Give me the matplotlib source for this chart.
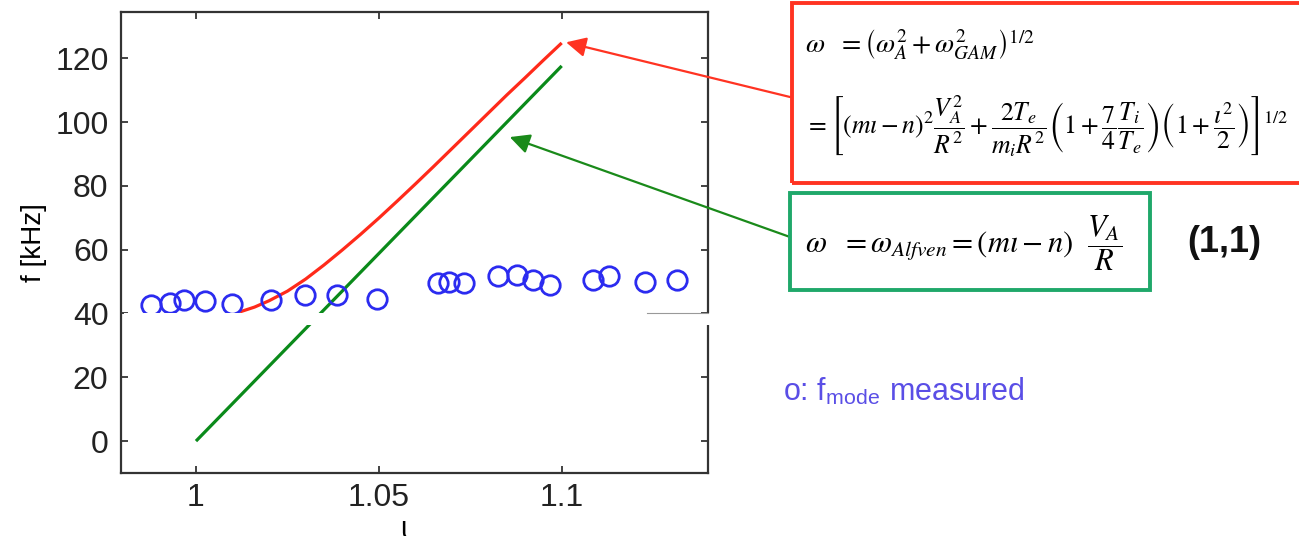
import matplotlib
matplotlib.use("Agg")
import matplotlib.pyplot as plt
from matplotlib.patches import Rectangle
from matplotlib.lines import Line2D

plt.rcParams['font.family'] = ['Liberation Sans', 'DejaVu Sans']
plt.rcParams['mathtext.fontset'] = 'stix'

# measured mode frequencies (rotational transform iota, kHz)
iota_meas = [0.9876, 0.9929, 0.9966, 1.0025, 1.0098, 1.0204, 1.0298, 1.0386,
             1.0496, 1.0662, 1.0693, 1.0734, 1.0827, 1.0877, 1.0922, 1.0969,
             1.1085, 1.1128, 1.1229, 1.1316]
f_meas = [42.6, 43.4, 44.2, 44.0, 42.9, 44.2, 45.9, 45.9,
          44.5, 49.6, 49.9, 49.6, 51.8, 52.0, 50.5, 48.8,
          50.5, 51.8, 50.0, 50.5]

# Alfven + GAM branch
iota_gam = [1.012, 1.016, 1.020, 1.025, 1.030, 1.035, 1.040, 1.045, 1.050,
            1.055, 1.060, 1.065, 1.070, 1.075, 1.080, 1.085, 1.090, 1.095, 1.100]
f_gam = [40.5, 42.0, 44.0, 47.0, 50.8, 55.2, 59.9, 64.8, 69.9,
         75.2, 80.6, 86.1, 91.7, 97.3, 102.9, 108.5, 113.9, 119.4, 124.8]

# pure Alfven branch
iota_alf = [1.0, 1.1]
f_alf = [0.0, 117.6]

xticks = [1.0, 1.05, 1.1]
xticklabels = ['1', '1.05', '1.1']
yticks = [0, 20, 40, 60, 80, 100, 120]

W, H = 1299, 540
fig = plt.figure(figsize=(W / 100, H / 100), dpi=100)

def fx(px):
    return px / W

def fy(py):
    return 1 - py / H

ax = fig.add_axes([fx(121), fy(473), fx(708) - fx(121), fy(12) - fy(473)])
ax.plot(iota_gam, f_gam, color='#ff2a1a', lw=2.3, solid_capstyle='butt', zorder=2)
ax.plot(iota_alf, f_alf, color='#0a8a1a', lw=2.3, solid_capstyle='butt', zorder=2)
ax.plot(iota_meas, f_meas, 'o', mfc='none', mec='#2b2bf0', mew=2.0, ms=14, zorder=3)

ax.set_xlim(0.9795, 1.14)
ax.set_ylim(-10, 134.5)
ax.set_xticks(xticks)
ax.set_xticklabels(xticklabels)
ax.set_yticks(yticks)
ax.tick_params(direction='in', length=5, width=1.2, colors='#222222',
               labelsize=23, top=True, right=True, pad=7)
ax.tick_params(axis='y', pad=9)
for s in ax.spines.values():
    s.set_linewidth(1.6)
    s.set_color('#333333')
ax.set_ylabel('f [kHz]', fontsize=20, labelpad=6)
fig.text(fx(403), fy(529), 'ι', fontsize=20, ha='center', va='center')

# white band crossing the plot just under 40 kHz
fig.patches.append(Rectangle((fx(124), fy(325)), fx(712) - fx(124), fy(313) - fy(325),
                             transform=fig.transFigure, facecolor='white',
                             edgecolor='none', zorder=10))
fig.lines.append(Line2D([fx(647), fx(708)], [fy(313), fy(313)], transform=fig.transFigure,
                        color='#999999', lw=0.8, zorder=11))

# formula boxes
fig.patches.append(Rectangle((fx(792), fy(183)), fx(1310) - fx(792), fy(3) - fy(183),
                             transform=fig.transFigure, facecolor='none',
                             edgecolor='#ff3322', lw=2.8, zorder=5))
fig.patches.append(Rectangle((fx(790), fy(290)), fx(1150) - fx(790), fy(193) - fy(290),
                             transform=fig.transFigure, facecolor='none',
                             edgecolor='#1fa86a', lw=2.8, zorder=5))

fig.text(fx(805), fy(45), r'$\omega\ \ =\left(\omega_A^2+\omega_{GAM}^2\right)^{1/2}$',
         fontsize=20, va='center', ha='left')
fig.text(fx(805), fy(127),
         r'$=\left[\left(m\iota-n\right)^2\dfrac{V_A^2}{R^2}+\dfrac{2T_e}{m_iR^2}'
         r'\left(1+\dfrac{7}{4}\dfrac{T_i}{T_e}\right)\left(1+\dfrac{\iota^2}{2}\right)\right]^{1/2}$',
         fontsize=18.5, va='center', ha='left')
fig.text(fx(805), fy(243), r'$\omega\ \ =\omega_{Alfven}=\left(m\iota-n\right)\ \ \dfrac{V_A}{R}$',
         fontsize=22, va='center', ha='left')
fig.text(fx(1187), fy(243), '(1,1)', fontsize=26, fontweight='bold', va='center', ha='left',
         color='#111111')
fig.text(fx(783), fy(392), r'o: f$_\mathregular{mode}$ measured', fontsize=22,
         va='center', ha='left', color='#5a4ee6')

# arrows from the formulas to the curves
ax.annotate('', xy=(1.1012, 125.0), xycoords='data',
            xytext=(fx(790), fy(97)), textcoords='figure fraction',
            arrowprops=dict(arrowstyle='-|>', color='#ff3322', lw=1.6,
                            mutation_scale=30, shrinkA=0, shrinkB=0))
ax.annotate('', xy=(1.0858, 95.3), xycoords='data',
            xytext=(fx(790), fy(237)), textcoords='figure fraction',
            arrowprops=dict(arrowstyle='-|>', color='#1a8a1a', lw=1.6,
                            mutation_scale=30, shrinkA=0, shrinkB=0))

fig.savefig('out.png', dpi=100)
